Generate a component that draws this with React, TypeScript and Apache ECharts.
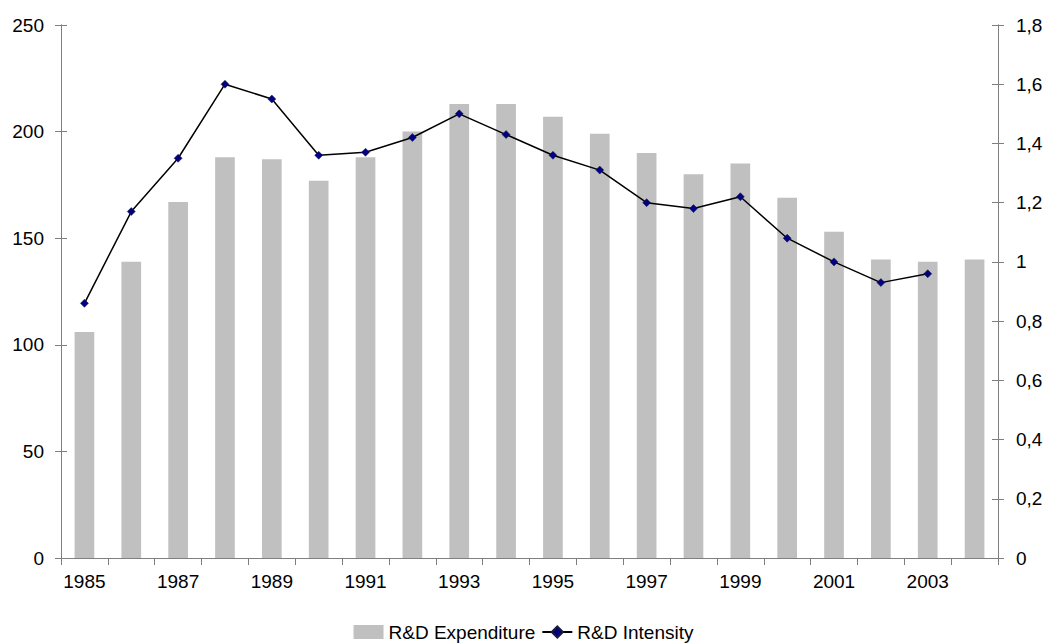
import React, { useEffect, useRef } from "react";
import * as echarts from "echarts";

// Years on the category axis
const years = [
  "1985", "1986", "1987", "1988", "1989", "1990", "1991", "1992", "1993", "1994",
  "1995", "1996", "1997", "1998", "1999", "2000", "2001", "2002", "2003", "2004",
];

// R&D expenditure (left axis)
const expenditure = [
  106, 139, 167, 188, 187, 177, 188, 200, 213, 213,
  207, 199, 190, 180, 185, 169, 153, 140, 139, 140,
];

// R&D intensity (right axis); no value for 2004
const intensity: (number | null)[] = [
  0.86, 1.17, 1.35, 1.6, 1.55, 1.36, 1.37, 1.42, 1.5, 1.43,
  1.36, 1.31, 1.2, 1.18, 1.22, 1.08, 1.0, 0.93, 0.96, null,
];

const FONT = "Liberation Sans, Arial, sans-serif";
const FONT_SIZE = 19;
const AXIS_GREY = "#7f7f7f";

const commaFmt = (v: number) =>
  Number(v.toFixed(1)).toString().replace(".", ",");

export default function App() {
  const ref = useRef<HTMLDivElement>(null);

  useEffect(() => {
    if (!ref.current) return;
    const chart = echarts.init(ref.current, undefined, { renderer: "svg" });

    const leftAxisBase = {
      type: "value" as const,
      position: "left" as const,
      min: 0,
      max: 250,
      interval: 50,
      splitLine: { show: false },
      axisLine: { show: true, lineStyle: { color: AXIS_GREY, width: 1 } },
    };
    const rightAxisBase = {
      type: "value" as const,
      position: "right" as const,
      min: 0,
      max: 1.8,
      interval: 0.2,
      splitLine: { show: false },
      axisLine: { show: true, lineStyle: { color: AXIS_GREY, width: 1 } },
    };

    chart.setOption({
      animation: false,
      backgroundColor: "#ffffff",
      textStyle: { fontFamily: FONT },
      grid: { left: 61, right: 49, top: 25, bottom: 86, containLabel: false },
      legend: {
        bottom: 0,
        padding: [0, 5, 2, 5],
        left: "center",
        itemGap: 6,
        itemWidth: 30,
        itemHeight: 14,
        textStyle: { fontFamily: FONT, fontSize: FONT_SIZE, color: "#000", lineHeight: 20 },
        data: [
          { name: "R&D Expenditure", icon: "rect" },
          { name: "R&D Intensity" },
        ],
      },
      xAxis: {
        type: "category",
        data: years,
        boundaryGap: true,
        axisLine: { show: true, lineStyle: { color: AXIS_GREY, width: 1 } },
        axisTick: {
          show: true,
          interval: 0,
          alignWithLabel: false,
          length: 7,
          lineStyle: { color: AXIS_GREY },
        },
        axisLabel: {
          interval: 1,
          margin: 14,
          fontFamily: FONT,
          fontSize: FONT_SIZE,
          color: "#000",
        },
      },
      yAxis: [
        {
          ...leftAxisBase,
          axisTick: { show: true, length: 6, lineStyle: { color: AXIS_GREY } },
          axisLabel: { margin: 17, fontFamily: FONT, fontSize: FONT_SIZE, color: "#000" },
        },
        {
          ...rightAxisBase,
          axisTick: { show: true, length: 6, lineStyle: { color: AXIS_GREY } },
          axisLabel: {
            margin: 18,
            fontFamily: FONT,
            fontSize: FONT_SIZE,
            color: "#000",
            formatter: commaFmt,
          },
        },
        // inner halves of the crossing tick marks
        {
          ...leftAxisBase,
          axisTick: { show: true, inside: true, length: 6, lineStyle: { color: AXIS_GREY } },
          axisLabel: { show: false },
        },
        {
          ...rightAxisBase,
          axisTick: { show: true, inside: true, length: 6, lineStyle: { color: AXIS_GREY } },
          axisLabel: { show: false },
        },
      ],
      series: [
        {
          name: "R&D Expenditure",
          type: "bar",
          yAxisIndex: 0,
          data: expenditure,
          barWidth: "42%",
          itemStyle: { color: "#c0c0c0" },
        },
        {
          name: "R&D Intensity",
          type: "line",
          yAxisIndex: 1,
          data: intensity,
          symbol: "diamond",
          symbolSize: 8,
          lineStyle: { color: "#000000", width: 1.5 },
          itemStyle: { color: "#000080", borderColor: "#1a1a3a", borderWidth: 0.5 },
        },
      ],
    });

    return () => chart.dispose();
  }, []);

  return (
    <div
      ref={ref}
      style={{ position: "fixed", left: 0, top: 0, width: 1047, height: 644 }}
    />
  );
}
